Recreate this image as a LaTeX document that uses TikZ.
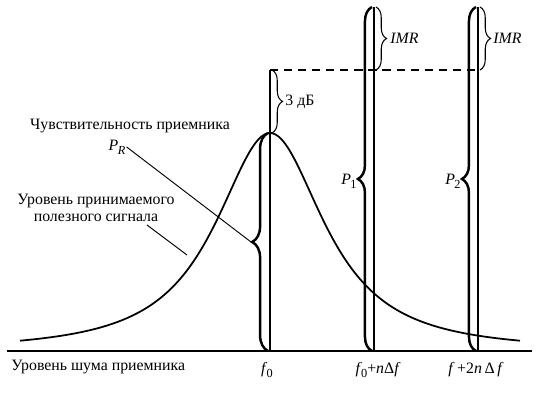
\documentclass[tikz,border=0pt]{standalone}
\usepackage{fontspec}
\setmainfont{Liberation Serif}
\usetikzlibrary{positioning,decorations.pathreplacing,calc}

\newcommand{\itsub}[2]{\textit{#1}\kern-0.04em\raisebox{-0.55ex}{\fontsize{10.5}{10.5}\selectfont #2}}

\begin{document}
\begin{tikzpicture}[x=0.03cm, y=0.03cm,
  lbl/.style={font=\fontsize{13.5}{14.5}\selectfont, inner sep=1pt},
  axisline/.style={line width=1.1pt},
  level/.style={line width=1.1pt},
  curve/.style={line width=1.5pt},
  bigbrace/.style={decorate, decoration={brace, amplitude=#1}, line width=2.1pt},
  smallbrace/.style={decorate, decoration={brace, amplitude=#1}, line width=0.9pt},
  leader/.style={line width=0.8pt},
  dashline/.style={line width=1.1pt, dash pattern=on 7pt off 5pt}
]
\useasboundingbox (0,0) rectangle (546,394);

% points on the axis and tops of the levels
\coordinate (axL) at (7,43);   \coordinate (axR) at (532,43);
\coordinate (o0) at (270,43);  \coordinate (pk) at (270,261); \coordinate (t0) at (270,324);
\coordinate (o1) at (374,43);  \coordinate (d1) at (374,324); \coordinate (t1) at (374,387);
\coordinate (o2) at (478,43);  \coordinate (d2) at (478,324); \coordinate (t2) at (478,387);
\coordinate (tipR) at (251,152);
\coordinate (sigA) at (147,169); \coordinate (sigB) at (187,139);

% axis and selectivity curve
\draw[axisline] (axL) -- (axR);
\draw[curve] plot[domain=20:520, samples=150] (\x, {43 + 218/(1+((\x-270)/73)^2)^1.2});

% levels
\draw[level] (o0) -- (t0);
\draw[level] (o1) -- (t1);
\draw[level] (o2) -- (t2);
\draw[dashline] (t0) -- (d2);

% braces
\draw[bigbrace=13.5pt] ($(o0)+(-2,0)$) -- ($(pk)+(-2,0)$);
\draw[bigbrace=12pt] ($(o1)+(-2,0)$) -- ($(t1)+(-2,0)$);
\draw[bigbrace=12pt] ($(o2)+(-2,0)$) -- ($(t2)+(-2,0)$);
\draw[smallbrace=9pt] ($(t0)+(2,0)$) -- ($(pk)+(2,0)$);
\draw[smallbrace=9pt] ($(t1)+(2,0)$) -- ($(d1)+(2,0)$);
\draw[smallbrace=9pt] ($(t2)+(2,0)$) -- ($(d2)+(2,0)$);

% labels
\node[lbl, anchor=west] (imr1) at (389,356) {\textit{IMR}};
\node[lbl, anchor=west] (imr2) at (492,356) {\textit{IMR}};
\node[lbl, anchor=west] (db) at (284,292) {3 дБ};
\node[lbl] (pr) at (117,247) {\itsub{P}{\textit{R}}};
\node[lbl, anchor=east] (p1) at (358,213) {\itsub{P}{1}};
\node[lbl, anchor=east] (p2) at (462,213) {\itsub{P}{2}};
\node[lbl] (sens) at (130,268) {Чувствительность приемника};
\node[lbl, align=center] (sig) at (96,186) {Уровень принимаемого\\полезного сигнала};
\node[lbl, anchor=west] (noise) at (10,27) {Уровень шума приемника};
\node[lbl] (lf0) at (267,24) {\itsub{f}{0}};
\node[lbl] (lf1) at (378,24) {\itsub{f}{0}+\textit{n}Δ\textit{f}};
\node[lbl] (lf2) at (476,24) {\textit{f}\,+2\textit{n}\,Δ\,\textit{f}};

% leaders
\draw[leader] (pr.east) -- (tipR);
\draw[leader] (sigA) -- (sigB);
\end{tikzpicture}
\end{document}
